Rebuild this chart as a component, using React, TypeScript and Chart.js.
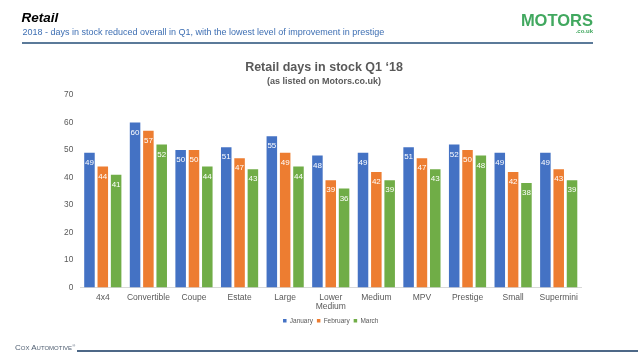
import React, { useEffect, useRef } from "react";
import { Chart, registerables } from "chart.js";

Chart.register(...registerables);

const categories: (string | string[])[] = [
  "4x4",
  "Convertible",
  "Coupe",
  "Estate",
  "Large",
  ["Lower", "Medium"],
  "Medium",
  "MPV",
  "Prestige",
  "Small",
  "Supermini",
];
const seriesNames = ["January", "February", "March"];
const january = [49, 60, 50, 51, 55, 48, 49, 51, 52, 49, 49];
const february = [44, 57, 50, 47, 49, 39, 42, 47, 50, 42, 43];
const march = [41, 52, 44, 43, 44, 36, 39, 43, 48, 38, 39];
const seriesColors = ["#4472C4", "#ED7D31", "#70AD47"];
const yMin = 0;
const yMax = 70;
const yStep = 10;

const FONT = "'Liberation Sans', Arial, Helvetica, sans-serif";

const barLabels = {
  id: "barLabels",
  afterDatasetsDraw(chart: any) {
    const ctx = chart.ctx;
    ctx.save();
    ctx.font = `8px ${FONT}`;
    ctx.fillStyle = "#ffffff";
    ctx.textAlign = "center";
    ctx.textBaseline = "middle";
    chart.data.datasets.forEach((ds: any, i: number) => {
      const meta = chart.getDatasetMeta(i);
      meta.data.forEach((bar: any, j: number) => {
        ctx.fillText(String(ds.data[j]), bar.x, bar.y + 10);
      });
    });
    ctx.restore();
  },
};

export default function App() {
  const ref = useRef<HTMLCanvasElement | null>(null);

  useEffect(() => {
    if (!ref.current) return;
    const chart = new Chart(ref.current, {
      type: "bar",
      data: {
        labels: categories as any,
        datasets: [january, february, march].map((d, i) => ({
          label: seriesNames[i],
          data: d,
          backgroundColor: seriesColors[i],
          borderWidth: 0,
          categoryPercentage: 0.877,
          barPercentage: 0.79,
        })),
      },
      options: {
        animation: false,
        responsive: false,
        layout: { padding: { left: 0, right: 56.5, top: 95, bottom: 25 } },
        plugins: {
          title: { display: false },
          tooltip: { enabled: false },
          legend: {
            position: "bottom",
            fullSize: false,
            labels: {
              boxWidth: 3.5,
              boxHeight: 3.5,
              padding: 4,
              color: "#595959",
              font: { size: 6.5, family: FONT },
            },
          },
        },
        scales: {
          x: {
            grid: { display: false, drawTicks: false },
            border: { display: true, color: "#d9d9d9", width: 1 },
            ticks: {
              color: "#595959",
              font: { size: 8.5, family: FONT, lineHeight: 1.1 },
              padding: 5.5,
              maxRotation: 0,
              autoSkip: false,
            },
            afterFit: (s: any) => {
              s.height = 26;
            },
          },
          y: {
            min: yMin,
            max: yMax,
            grid: { display: false, drawTicks: false },
            border: { display: false },
            ticks: {
              stepSize: yStep,
              color: "#595959",
              font: { size: 8.3, family: FONT },
              padding: 6.7,
            },
            afterFit: (s: any) => {
              s.width = 80;
            },
          },
        },
      },
      plugins: [barLabels],
    });
    return () => chart.destroy();
  }, []);

  const abs: React.CSSProperties = {
    position: "absolute",
    whiteSpace: "nowrap",
    lineHeight: 1,
    fontFamily: FONT,
    margin: 0,
  };

  return (
    <div
      style={{
        position: "fixed",
        left: 0,
        top: 0,
        width: 638,
        height: 359,
        background: "#ffffff",
        overflow: "hidden",
      }}
    >
      <canvas
        ref={ref}
        width={638}
        height={359}
        style={{ position: "absolute", left: 0, top: 0, width: 638, height: 359 }}
      />
      <div
        style={{
          ...abs,
          left: 21.5,
          top: 11.3,
          fontSize: 13.5,
          fontWeight: "bold",
          fontStyle: "italic",
          color: "#000000",
        }}
      >
        Retail
      </div>
      <div style={{ ...abs, left: 22.5, top: 28.4, fontSize: 9, color: "#3e6fb3" }}>
        2018 - days in stock reduced overall in Q1, with the lowest level of improvement in prestige
      </div>
      <div
        style={{
          position: "absolute",
          left: 22,
          top: 42,
          width: 571,
          height: 1.5,
          background: "#5b7a99",
        }}
      />
      <div
        style={{
          ...abs,
          right: 638 - 593,
          top: 12,
          fontSize: 16.5,
          fontWeight: "bold",
          color: "#41a85f",
        }}
      >
        MOTORS
      </div>
      <div
        style={{
          ...abs,
          right: 638 - 593,
          top: 28,
          fontSize: 6,
          fontWeight: "bold",
          color: "#41a85f",
        }}
      >
        .co.uk
      </div>
      <div
        style={{
          ...abs,
          left: 324,
          top: 61.4,
          transform: "translateX(-50%)",
          fontSize: 12.5,
          fontWeight: "bold",
          color: "#595959",
        }}
      >
        Retail days in stock Q1 ‘18
      </div>
      <div
        style={{
          ...abs,
          left: 324,
          top: 77.3,
          transform: "translateX(-50%)",
          fontSize: 9,
          fontWeight: "bold",
          color: "#595959",
        }}
      >
        (as listed on Motors.co.uk)
      </div>
      <div
        style={{
          ...abs,
          left: 15,
          top: 344.2,
          fontSize: 8,
          fontVariant: "small-caps",
          color: "#4e5d70",
        }}
      >
        Cox Automotive<span style={{ fontSize: 4, verticalAlign: "top" }}>®</span>
      </div>
      <div
        style={{
          position: "absolute",
          left: 77,
          top: 350,
          width: 561,
          height: 2,
          background: "#4d6887",
        }}
      />
    </div>
  );
}
